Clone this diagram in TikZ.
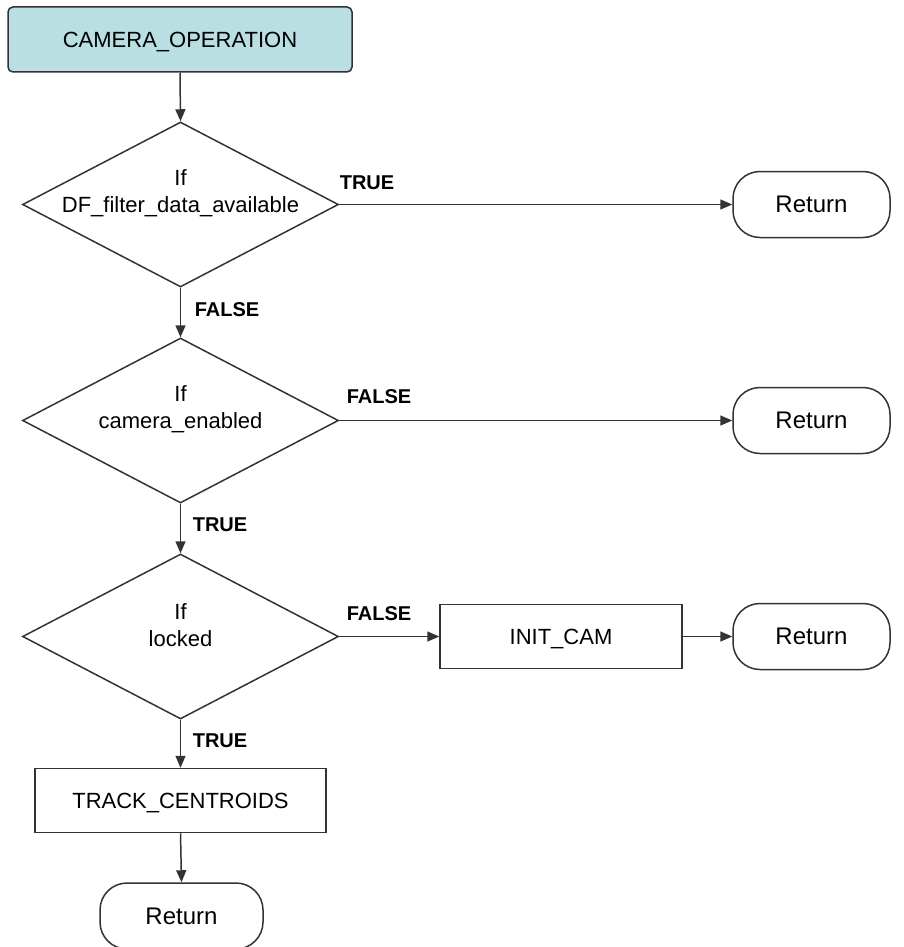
\documentclass[tikz,border=0pt]{standalone}
\usepackage{fontspec}
\setmainfont{Liberation Sans}
\usetikzlibrary{shapes.geometric,arrows.meta}

\definecolor{startfill}{HTML}{BADFE3}
\definecolor{linegray}{HTML}{333333}

\tikzset{
	startbox/.style={draw=linegray, fill=startfill, rounded corners=5pt,
		minimum width=344pt, minimum height=65pt, text height=16pt, text depth=0pt,
		font=\fontsize{22}{27}\selectfont},
	decision/.style={diamond, draw=linegray, inner sep=0pt,
		minimum width=316pt, minimum height=165pt},
	cond/.style={align=center, font=\fontsize{22}{27}\selectfont},
	process/.style={draw=linegray, rectangle, minimum height=64pt,
		text height=16pt, text depth=0pt, font=\fontsize{22}{27}\selectfont},
	terminal/.style={draw=linegray, rounded corners=27pt, minimum width=157pt,
		minimum height=66pt, font=\fontsize{24}{28}\selectfont},
	branch/.style={font=\bfseries\fontsize{20}{24}\selectfont},
	flow/.style={draw=linegray, -{Triangle[length=12pt,width=10pt]}}
}

\begin{document}
\begin{tikzpicture}[x=1pt,y=-1pt,line width=1.5pt]
			\useasboundingbox (0,0) rectangle (903,947);
			%Start of the operation
			\node [startbox] (op) at (180,39.5) {CAMERA\_OPERATION};
			%Conditions
			\node [decision] (q1) at (180.5,204.5) {};
			\node [cond] (q1txt) at (180.5,193) {If\\DF\_filter\_data\_available};
			\node [decision] (q2) at (180.5,420.5) {};
			\node [cond] (q2txt) at (180.5,409) {If\\camera\_enabled};
			\node [decision] (q3) at (180.5,636.5) {};
			\node [cond] (q3txt) at (180.5,625) {If\\locked};
			%Actions
			\node [process, minimum width=242pt] (init) at (561,636.5) {INIT\_CAM};
			\node [process, minimum width=291pt] (track) at (180.5,800.5) {TRACK\_CENTROIDS};
			%Return points
			\node [terminal] (ret1) at (811.5,204.5) {Return};
			\node [terminal] (ret2) at (811.5,420.5) {Return};
			\node [terminal] (ret3) at (811.5,636.5) {Return};
			\node [terminal, minimum width=163pt] (retB) at (181.5,916) {Return};
			%Connectors
			\draw [flow] (op.south) -- (q1.north);
			\draw [flow] (q1.east) -- (ret1.west);
			\draw [flow] (q1.south) -- (q2.north);
			\draw [flow] (q2.east) -- (ret2.west);
			\draw [flow] (q2.south) -- (q3.north);
			\draw [flow] (q3.east) -- (init.west);
			\draw [flow] (init.east) -- (ret3.west);
			\draw [flow] (q3.south) -- (track.north);
			\draw [flow] (track.south) -- (retB.north);
			%Branch labels
			\node [branch] (b1) at (367,183) {TRUE};
			\node [branch] (b2) at (227,310) {FALSE};
			\node [branch] (b3) at (379,397) {FALSE};
			\node [branch] (b4) at (220,525) {TRUE};
			\node [branch] (b5) at (379,614) {FALSE};
			\node [branch] (b6) at (220,741) {TRUE};
\end{tikzpicture}
\end{document}
